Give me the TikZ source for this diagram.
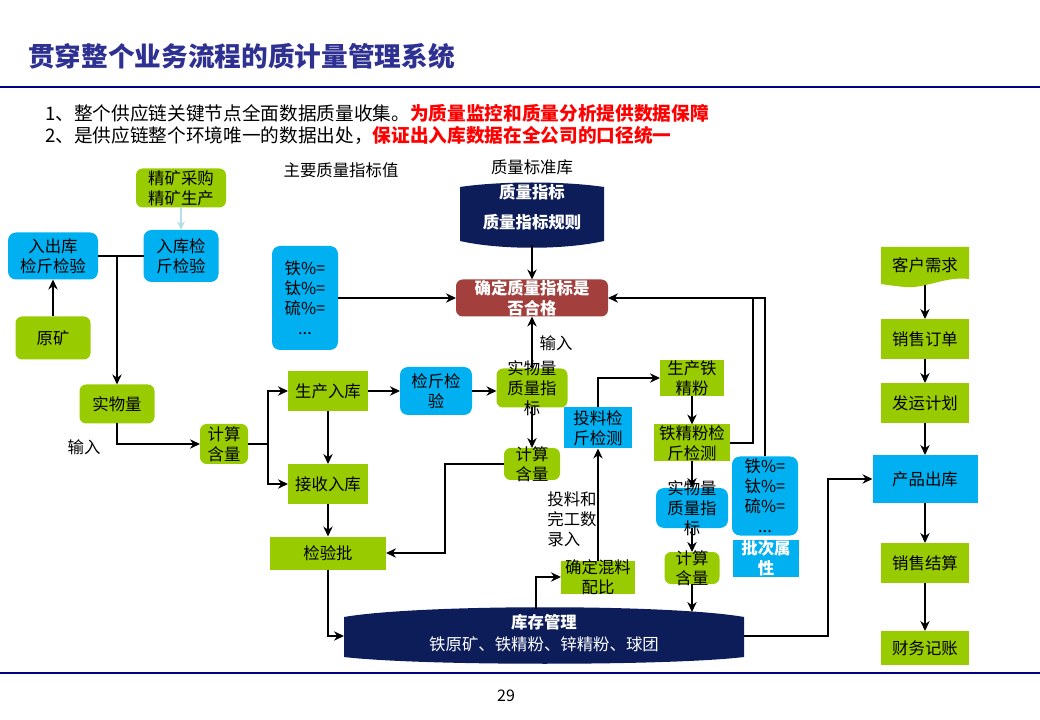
\documentclass[tikz,border=0pt]{standalone}
\usepackage{fontspec}
\setmainfont{Noto Sans CJK SC}
\usetikzlibrary{arrows.meta}
\definecolor{cgreen}{RGB}{153,204,0}
\definecolor{cblue}{RGB}{0,176,240}
\definecolor{cnavy}{RGB}{12,29,90}
\definecolor{cbrown}{RGB}{163,64,62}
\definecolor{ctitle}{RGB}{46,49,146}
\definecolor{crule}{RGB}{0,0,128}
\definecolor{clight}{RGB}{183,222,232}
\tikzset{
  sz/.style 2 args={minimum width=#1*0.75pt, minimum height=#2*0.75pt},
  bx/.style={inner sep=0pt, outer sep=0pt},
  tx/.style={font=\fontsize{12.3}{15}\selectfont, align=center, inner sep=0pt, text=black},
  txw/.style={font=\bfseries\fontsize{12.3}{15}\selectfont, align=center, inner sep=0pt, text=white},
  T/.style={label={[tx]center:{#1}}},
  TW/.style={label={[txw]center:{#1}}},
  gr/.style={bx, fill=cgreen, rounded corners=5pt},
  gs/.style={bx, fill=cgreen},
  br/.style={bx, fill=cblue, rounded corners=6pt},
  bs/.style={bx, fill=cblue},
  ln/.style={draw=black, line width=2.1pt},
  arr/.style={ln, -{Stealth[length=7.5pt,width=7pt]}},
  lbl/.style={font=\fontsize{12.3}{15}\selectfont, align=center, inner sep=0pt},
}
\begin{document}
\begin{tikzpicture}[x=0.75pt,y=-0.75pt]
\useasboundingbox (0,0) rectangle (1040,720);

% title and rules
\node[anchor=west, inner sep=0pt, font=\bfseries\fontsize{20}{24}\selectfont, text=ctitle] (title) at (28,56) {贯穿整个业务流程的质计量管理系统};
\draw[crule, line width=1.6pt] (0,87) -- (1040,87);
\draw[crule, line width=0.9pt] (0,673) -- (1040,673);
\node[anchor=west, inner sep=0pt, font=\fontsize{14}{17}\selectfont] (b1) at (45,113) {1、整个供应链关键节点全面数据质量收集。\textcolor{red}{\bfseries 为质量监控和质量分析提供数据保障}};
\node[anchor=west, inner sep=0pt, font=\fontsize{14}{17}\selectfont] (b2) at (45,135) {2、是供应链整个环境唯一的数据出处，\textcolor{red}{\bfseries 保证出入库数据在全公司的口径统一}};
\node[font=\fontsize{12}{14}\selectfont, inner sep=0pt] (pg) at (506,696) {29};

% shapes drawn directly
\fill[cnavy] (460,187) .. controls (500,181) and (564,181) .. (604,187) -- (604,241) .. controls (564,250) and (500,250) .. (460,241) -- cycle;
\fill[cnavy] (344,617) .. controls (420,604) and (670,604) .. (744,617) -- (744,657) .. controls (670,666) and (420,666) .. (344,657) -- cycle;
\fill[cgreen] (881,247) -- (969,247) -- (969,279) .. controls (945,276) and (925,289) .. (905,287) .. controls (895,286) and (887,285) .. (881,284) -- cycle;

% nodes
\node[bx, sz={144}{62}, label={[txw, font=\bfseries\fontsize{12.3}{23}\selectfont, yshift=5pt]center:{质量指标\\质量指标规则}}] (cyl) at (532,214) {};
\node[bx, sz={400}{56}, label={[txw, font=\fontsize{12.3}{16.5}\selectfont, yshift=2pt]center:{{\bfseries 库存管理}\\铁原矿、铁精粉、锌精粉、球团}}] (kc) at (544,636) {};

\node[gr, sz={90}{39}, T={精矿采购\\精矿生产}] (jk) at (181,188) {};
\node[br, sz={75}{52}, T={入库检\\斤检验}] (rkjj) at (181,256) {};
\node[br, sz={90}{47}, T={入出库\\检斤检验}] (rcj) at (53,256) {};
\node[gr, sz={75}{43}, T={原矿}] (yk) at (53,338) {};
\node[gr, sz={75}{39}, T={实物量}] (swl) at (117,404) {};
\node[gr, sz={48}{40}, T={计算\\含量}] (js1) at (224,444) {};
\node[gs, sz={80}{40}, T={生产入库}] (scrk) at (328,391) {};
\node[gs, sz={80}{40}, T={接收入库}] (jsrk) at (328,484) {};
\node[gs, sz={116}{33}, T={检验批}] (jyp) at (328,553) {};
\node[br, sz={72}{48}, T={检斤检\\验}] (jjjy) at (436,391) {};
\node[gr, sz={71}{39}, T={实物量\\质量指\\标}] (zl1) at (532,388) {};
\node[br, sz={66}{104}, T={铁\%=\\钛\%=\\硫\%=\\...}] (fe1) at (305,298) {};
\node[bx, fill=cbrown, rounded corners=5pt, sz={152}{37}, TW={确定质量指标是\\否合格}] (qd) at (532,298) {};
\node[gr, sz={56}{32}, T={计算\\含量}] (js2) at (532,464) {};
\node[bs, sz={68}{41}, T={投料检\\斤检测}] (tl) at (598,428) {};
\node[gs, sz={74}{33}, T={确定混料\\配比}] (hl) at (598,577) {};
\node[gs, sz={64}{36}, T={生产铁\\精粉}] (sc) at (692,378) {};
\node[gs, sz={76}{37}, T={铁精粉检\\斤检测}] (tj) at (692,443) {};
\node[br, sz={72}{40}, T={实物量\\质量指\\标}] (zl2) at (692,508) {};
\node[gr, sz={55}{32}, T={计算\\含量}] (js3) at (692,568) {};
\node[br, sz={66}{79}, T={铁\%=\\钛\%=\\硫\%=\\...}] (fe2) at (765,496) {};
\node[bs, sz={66}{37}, TW={批次属\\性}] (pc) at (766,558) {};

\node[bx, sz={88}{40}, T={客户需求}] (kh) at (925,265) {};
\node[gs, sz={88}{40}, T={销售订单}] (xs) at (925,339) {};
\node[gs, sz={88}{40}, T={发运计划}] (fy) at (925,403) {};
\node[bs, sz={105}{48}, T={产品出库}] (cp) at (925,479) {};
\node[gs, sz={88}{40}, T={销售结算}] (jsu) at (925,563) {};
\node[gs, sz={88}{34}, T={财务记账}] (cw) at (925,648) {};

% free labels
\node[lbl] (h1) at (341,170) {主要质量指标值};
\node[lbl] (h2) at (532,167) {质量标准库};
\node[lbl] (l1) at (84,447) {输入};
\node[lbl] (l2) at (556,343) {输入};
\node[lbl, align=left] (l3) at (572,519) {投料和\\完工数\\录入};

% junction coordinates
\coordinate (j0) at (117,256);
\coordinate (j1) at (268,444);
\coordinate (j2) at (445,464);
\coordinate (j3) at (753,298);
\coordinate (j5) at (536,609);
\coordinate (j6) at (692,612);
\coordinate (j7) at (828,636);

% connectors
\draw[draw=clight, line width=1.8pt, -{Stealth[length=6.5pt,width=6pt]}] (jk) -- (rkjj);
\draw[arr] (yk) -- (rcj);
\draw[ln] (rcj) -- (rkjj);
\draw[arr] (j0) -- (swl);
\draw[arr] (swl) |- (js1);
\draw[ln] (js1) -- (j1);
\draw[arr] (j1) |- (scrk);
\draw[arr] (j1) |- (jsrk);
\draw[arr] (scrk) -- (jsrk);
\draw[arr] (jsrk) -- (jyp);
\draw[arr] (jyp) |- (kc);
\draw[arr] (scrk) -- (jjjy);
\draw[arr] (jjjy) -- (jjjy -| zl1.west);
\draw[arr] (zl1) -- (qd);
\draw[arr] (zl1) -- (js2);
\draw[arr] (js2) -- (j2) |- (jyp);
\draw[arr] (fe1) -- (qd);
\draw[arr] (cyl) -- (qd);
\draw[ln] (tj) -| (j3);
\draw[arr] (fe2) |- (qd);
\draw[arr] (j5) |- (hl);
\draw[arr] (hl) -- (tl);
\draw[arr] (tl) |- (sc);
\draw[arr] (sc) -- (tj);
\draw[arr] (tj) -- (zl2);
\draw[arr] (zl2) -- (js3);
\draw[arr] (js3) -- (j6);
\draw[arr] (kc) -- (j7) |- (cp);
\draw[arr] (kh) -- (xs);
\draw[arr] (xs) -- (fy);
\draw[arr] (fy) -- (cp);
\draw[arr] (cp) -- (jsu);
\draw[arr] (jsu) -- (cw);
\end{tikzpicture}
\end{document}
